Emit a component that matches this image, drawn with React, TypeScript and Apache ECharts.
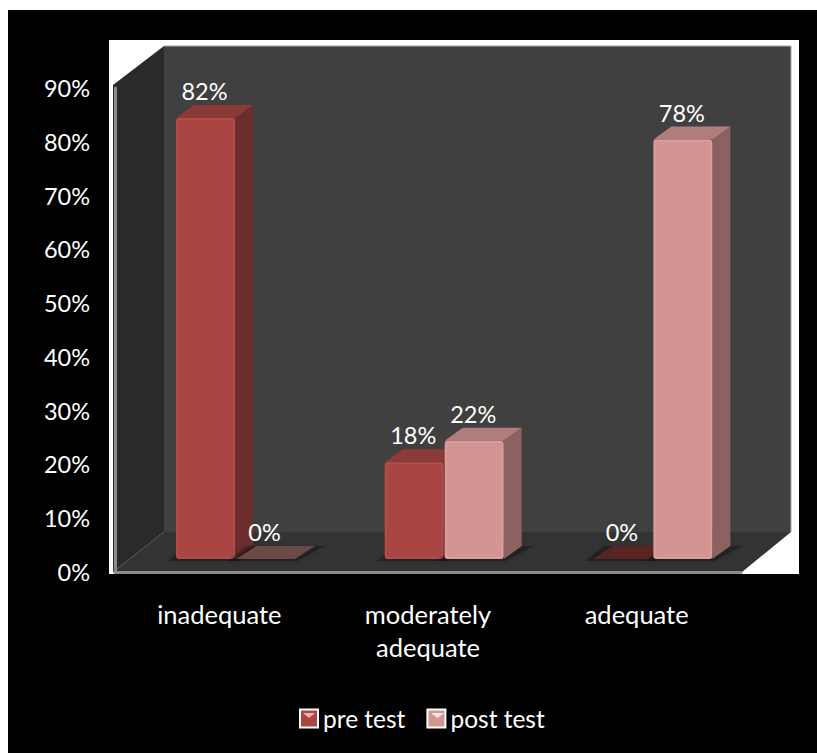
import React, { useEffect, useRef } from "react";
import * as echarts from "echarts";

const categories = ["inadequate", "moderately\nadequate", "adequate"];
const preTest = [82, 18, 0];
const postTest = [0, 22, 78];
const seriesNames = ["pre test", "post test"];

const W = 809, H = 743, OX = 8, OY = 10;
const FONT = "Lato";
const BAR_W = 59, DX = 18, DY = 13, LIFT = 13;
const p = (x: number, y: number) => [x - OX, y - OY];

const poly = (pts: number[][], fill: string, z = 0, extra: any = {}) => ({
  type: "polygon", z, silent: true,
  shape: { points: pts.map(([x, y]) => p(x, y)) },
  style: { fill, ...extra },
});

function barRenderer(shift: number, front: string, edge: string, side: string, top: string, flat: string) {
  return (_: any, api: any) => {
    const idx = api.value(0), val = api.value(1);
    const c = api.coord([idx, val]);
    const b = api.coord([idx, 0]);
    const x0 = c[0] + shift, x1 = x0 + BAR_W;
    const yTop = c[1] - LIFT, yBase = b[1] - LIFT;
    const children: any[] = [];
    children.push({
      type: "polygon",
      shape: { points: [[x0 - 8, yBase + 2], [x1 + 2, yBase + 2], [x1 + DX + 12, yBase - DY], [x0 + 10, yBase - DY]] },
      style: { fill: "rgba(0,0,0,0.28)", shadowBlur: 7, shadowColor: "rgba(0,0,0,0.45)" },
    });
    if (val === 0) {
      children.push({
        type: "polygon",
        shape: { points: [[x0, yBase], [x1, yBase], [x1 + DX + 2, yBase - DY], [x0 + DX + 2, yBase - DY]] },
        style: { fill: flat },
      });
    } else {
      children.push({
        type: "polygon",
        shape: { points: [[x1, yTop], [x1 + DX, yTop - DY], [x1 + DX, yBase - DY], [x1, yBase]] },
        style: { fill: side },
      });
      children.push({
        type: "polygon",
        shape: { points: [[x0, yTop], [x0 + DX, yTop - DY], [x1 + DX, yTop - DY], [x1, yTop]] },
        style: { fill: top },
      });
      children.push({
        type: "rect",
        shape: { x: x0 + 1, y: yTop + 1, width: BAR_W - 2, height: yBase - yTop - 2, r: 2 },
        style: { fill: front, stroke: edge, lineWidth: 2 },
      });
    }
    children.push({
      type: "text",
      style: {
        x: x0 + BAR_W / 2 - 1, y: yTop - 27, text: val + "%",
        fill: "#ffffff", font: `23.5px ${FONT}`, align: "center", verticalAlign: "middle",
      },
    });
    return { type: "group", children };
  };
}

export default function App() {
  const ref = useRef<HTMLDivElement>(null);
  useEffect(() => {
    const chart = echarts.init(ref.current!, undefined, { renderer: "svg" });
    chart.setOption({
      animation: false,
      backgroundColor: "#000000",
      textStyle: { fontFamily: FONT },
      grid: { left: 115 - OX, top: 88 - OY, width: 626, height: 484 },
      xAxis: {
        type: "category",
        data: categories,
        z: 5,
        axisTick: { show: false },
        axisLine: { show: true, lineStyle: { color: "#8c8c8c", width: 3 } },
        axisLabel: { color: "#ffffff", fontSize: 25.5, fontFamily: FONT, margin: 25, lineHeight: 33 },
      },
      yAxis: {
        type: "value", min: 0, max: 90, interval: 10,
        z: 5,
        splitLine: { show: false },
        axisTick: { show: false },
        axisLine: { show: true, lineStyle: { color: "#8c8c8c", width: 3 } },
        axisLabel: { color: "#ffffff", fontSize: 23.5, fontFamily: FONT, margin: 25, formatter: "{value}%" },
      },
      legend: {
        left: 299 - OX, top: 706 - OY, padding: 0,
        itemWidth: 18, itemHeight: 18, itemGap: 21,
        icon: "rect",
        selectedMode: false,
        data: seriesNames,
        textStyle: { color: "#ffffff", fontSize: 24.5, fontFamily: FONT },
      },
      graphic: [
        { type: "rect", z: 0, silent: true, shape: { x: 109 - OX, y: 40 - OY, width: 690, height: 534 }, style: { fill: "#ffffff" } },
        poly([[164, 46], [791, 46], [791, 532], [164, 532]], "#404040", 0),
        { type: "polyline", z: 1, silent: true, shape: { points: [p(164, 46), p(791, 46), p(791, 532)] }, style: { stroke: "#a8a8a8", lineWidth: 1, fill: "none" } },
        poly([[113, 85], [164, 46], [164, 532], [113, 572]], "#2a2a2a", 1),
        poly([[113, 572], [164, 532], [791, 532], [742, 572]], "#333333", 1),
        poly([[303, 713], [315, 713], [309, 718]], "#f0b4b0", 10),
        poly([[431, 713], [444, 713], [437.5, 718]], "#fbe6e4", 10),
      ],
      series: [
        {
          type: "custom", name: seriesNames[0], clip: false, z: 3,
          itemStyle: { color: "#a94644", borderColor: "#ffffff", borderWidth: 2 },
          renderItem: barRenderer(15.7 - BAR_W, "#a94644", "#b24d4a", "#6c2e2c", "#8b3a38", "#5a2422"),
          encode: { x: 0, y: 1 },
          data: preTest.map((v, i) => [i, v]),
        },
        {
          type: "custom", name: seriesNames[1], clip: false, z: 4,
          itemStyle: { color: "#d29594", borderColor: "#ffffff", borderWidth: 2 },
          renderItem: barRenderer(16.7, "#d29594", "#dc9e9d", "#8c6261", "#b07d7c", "#6b4a47"),
          encode: { x: 0, y: 1 },
          data: postTest.map((v, i) => [i, v]),
        },
      ],
    });
    return () => chart.dispose();
  }, []);
  return (
    <div
      ref={ref}
      style={{ position: "absolute", left: OX, top: OY, width: W, height: H }}
    />
  );
}
